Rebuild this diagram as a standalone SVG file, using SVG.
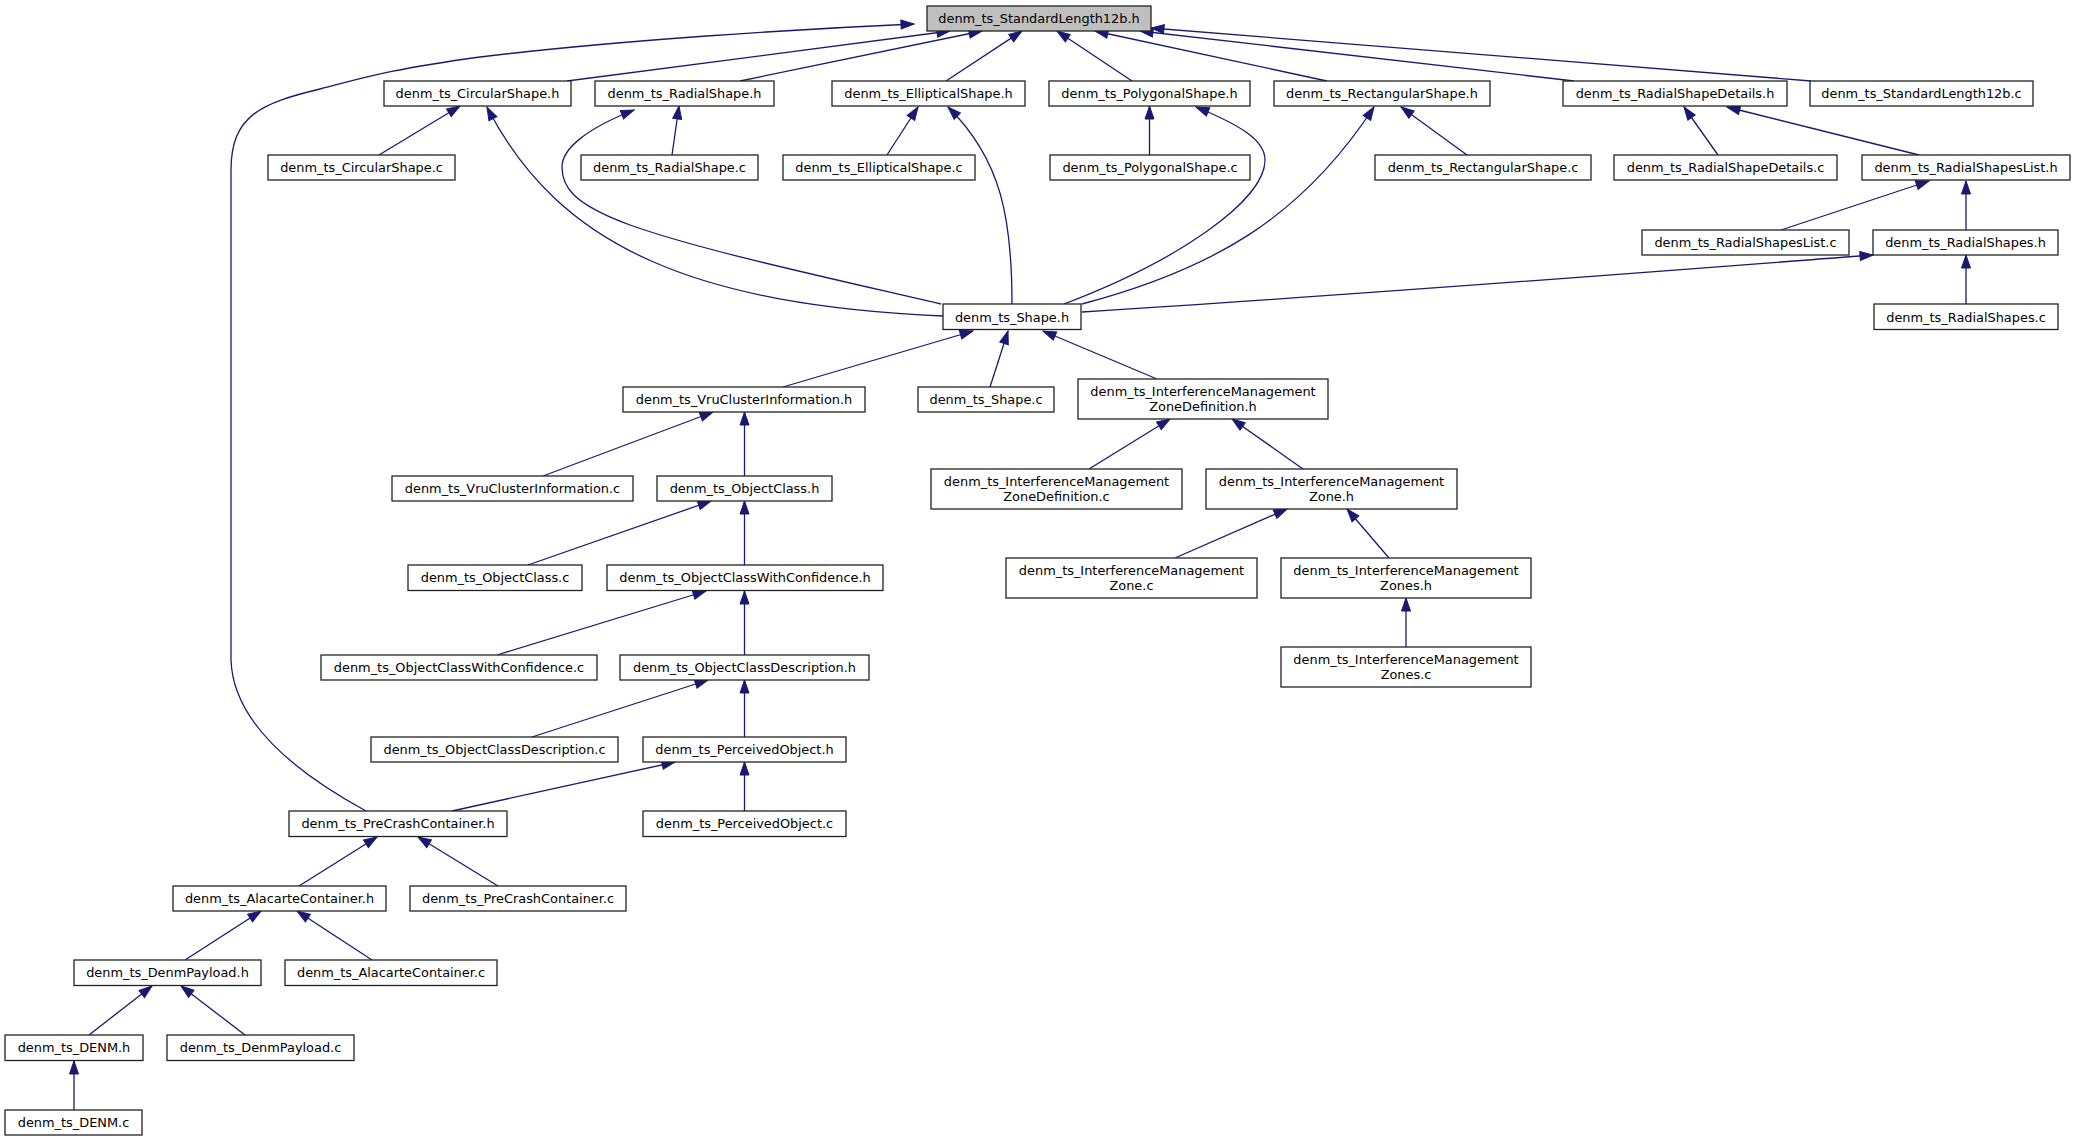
<svg xmlns="http://www.w3.org/2000/svg" width="2075" height="1141" viewBox="0 0 2075 1141">
<style>
.n rect{fill:#ffffff;stroke:#222222;stroke-width:1.3}
.n.root rect{fill:#bfbfbf}
.n text{font-family:"DejaVu Sans","Liberation Sans",sans-serif;font-size:12.9px;text-anchor:middle;fill:#000000}
.e path{fill:none;stroke:#191970;stroke-width:1.3;marker-end:url(#arr)}
</style>
<defs>
<marker id="arr" markerUnits="userSpaceOnUse" markerWidth="16" markerHeight="12" refX="13" refY="5" orient="auto" overflow="visible">
<path d="M0,0.5 L13,5 L0,9.5 Z" fill="#191970" stroke="#191970" stroke-width="1"/>
</marker>
</defs>
<rect width="2075" height="1141" fill="#ffffff"/>
<g id="edges" class="e">
<path d="M366,811 C300,775 233,725 231,660 L231,170 C231,115 262,103 320,89 C360,79 385,70 480,57 C620,40 800,29 914,24"/>
<path d="M567,81 L950,31"/>
<path d="M740,81 L982,31"/>
<path d="M946,81 L1022,31"/>
<path d="M1132,81 L1057,31"/>
<path d="M1327,81 L1095,31"/>
<path d="M1574,81 L1140,31"/>
<path d="M1811,81 L1151,28"/>
<path d="M379,155 L460,106"/>
<path d="M943,316 C700,305 560,250 487,107"/>
<path d="M672,155 L679,106"/>
<path d="M941,304 C820,276 700,250 630,225 C570,203 562,185 562,167 C562,148 588,128 634,110"/>
<path d="M887,155 L918,107"/>
<path d="M1012,304 C1012,220 1002,160 948,107"/>
<path d="M1149.5,155 L1149.5,106"/>
<path d="M1064,304 C1180,260 1265,200 1265,160 C1265,140 1240,125 1196,107"/>
<path d="M1467,155 L1401,107"/>
<path d="M1082,304 C1210,270 1300,220 1374,107"/>
<path d="M1718,155 L1684,107"/>
<path d="M1919,155 L1727,107"/>
<path d="M1781,230 L1929,181"/>
<path d="M1966,230 L1966,181"/>
<path d="M1966,304 L1966,255"/>
<path d="M1082,312 C1400,292 1700,268 1873,255"/>
<path d="M783,387 L973,331"/>
<path d="M990,387 L1008,331"/>
<path d="M1157,379 L1043,331"/>
<path d="M1089,469 L1170,419"/>
<path d="M1303,469 L1232,419"/>
<path d="M1175,558 L1287,509"/>
<path d="M1389,558 L1347,509"/>
<path d="M1406,647 L1406,598"/>
<path d="M543,476 L713,412"/>
<path d="M744.5,476 L744.5,412"/>
<path d="M528,565 L711,501"/>
<path d="M744.5,565 L744.5,501"/>
<path d="M497,655 L706,591"/>
<path d="M744.5,655 L744.5,591"/>
<path d="M532,737 L708,680"/>
<path d="M744.5,737 L744.5,680"/>
<path d="M744.5,811 L744.5,762"/>
<path d="M452,811 L675,762"/>
<path d="M299,886 L377,837"/>
<path d="M498,886 L418,837"/>
<path d="M185,960 L261,911"/>
<path d="M372,960 L297,911"/>
<path d="M89,1035 L152,986"/>
<path d="M245,1035 L181,986"/>
<path d="M74,1110 L74,1061"/>
</g>
<g id="n_std" class="n root"><rect x="927" y="6" width="224" height="25"/><text x="1039" y="23">denm_ts_StandardLength12b.h</text></g>
<g id="n_circ_h" class="n"><rect x="384" y="81" width="187" height="25"/><text x="477.5" y="98">denm_ts_CircularShape.h</text></g>
<g id="n_rad_h" class="n"><rect x="595" y="81" width="179" height="25"/><text x="684.5" y="98">denm_ts_RadialShape.h</text></g>
<g id="n_ell_h" class="n"><rect x="832" y="81" width="193" height="25"/><text x="928.5" y="98">denm_ts_EllipticalShape.h</text></g>
<g id="n_pol_h" class="n"><rect x="1049" y="81" width="201" height="25"/><text x="1149.5" y="98">denm_ts_PolygonalShape.h</text></g>
<g id="n_rect_h" class="n"><rect x="1274" y="81" width="216" height="25"/><text x="1382" y="98">denm_ts_RectangularShape.h</text></g>
<g id="n_rsd_h" class="n"><rect x="1563" y="81" width="224" height="25"/><text x="1675" y="98">denm_ts_RadialShapeDetails.h</text></g>
<g id="n_std_c" class="n"><rect x="1810" y="81" width="223" height="25"/><text x="1921.5" y="98">denm_ts_StandardLength12b.c</text></g>
<g id="n_circ_c" class="n"><rect x="268" y="155" width="187" height="25"/><text x="361.5" y="172">denm_ts_CircularShape.c</text></g>
<g id="n_rad_c" class="n"><rect x="581" y="155" width="177" height="25"/><text x="669.5" y="172">denm_ts_RadialShape.c</text></g>
<g id="n_ell_c" class="n"><rect x="783" y="155" width="192" height="25"/><text x="879" y="172">denm_ts_EllipticalShape.c</text></g>
<g id="n_pol_c" class="n"><rect x="1050" y="155" width="200" height="25"/><text x="1150" y="172">denm_ts_PolygonalShape.c</text></g>
<g id="n_rect_c" class="n"><rect x="1375" y="155" width="216" height="25"/><text x="1483" y="172">denm_ts_RectangularShape.c</text></g>
<g id="n_rsd_c" class="n"><rect x="1614" y="155" width="223" height="25"/><text x="1725.5" y="172">denm_ts_RadialShapeDetails.c</text></g>
<g id="n_rsl_h" class="n"><rect x="1862" y="155" width="208" height="25"/><text x="1966" y="172">denm_ts_RadialShapesList.h</text></g>
<g id="n_rsl_c" class="n"><rect x="1642" y="230" width="207" height="25"/><text x="1745.5" y="247">denm_ts_RadialShapesList.c</text></g>
<g id="n_rs_h" class="n"><rect x="1873" y="230" width="185" height="25"/><text x="1965.5" y="247">denm_ts_RadialShapes.h</text></g>
<g id="n_shape_h" class="n"><rect x="943" y="304" width="138" height="25.5"/><text x="1012" y="321.5">denm_ts_Shape.h</text></g>
<g id="n_rs_c" class="n"><rect x="1874" y="304" width="184" height="25.5"/><text x="1966" y="321.5">denm_ts_RadialShapes.c</text></g>
<g id="n_vru_h" class="n"><rect x="623" y="387" width="242" height="25"/><text x="744" y="404">denm_ts_VruClusterInformation.h</text></g>
<g id="n_shape_c" class="n"><rect x="918" y="387" width="136" height="25"/><text x="986" y="404">denm_ts_Shape.c</text></g>
<g id="n_zd_h" class="n"><rect x="1078" y="379" width="250" height="40"/><text x="1203" y="396">denm_ts_InterferenceManagement</text><text x="1203" y="411">ZoneDefinition.h</text></g>
<g id="n_vru_c" class="n"><rect x="392" y="476" width="241" height="25"/><text x="512.5" y="493">denm_ts_VruClusterInformation.c</text></g>
<g id="n_oc_h" class="n"><rect x="657" y="476" width="175" height="25"/><text x="744.5" y="493">denm_ts_ObjectClass.h</text></g>
<g id="n_zd_c" class="n"><rect x="931" y="469" width="251" height="40"/><text x="1056.5" y="486">denm_ts_InterferenceManagement</text><text x="1056.5" y="501">ZoneDefinition.c</text></g>
<g id="n_z_h" class="n"><rect x="1206" y="469" width="251" height="40"/><text x="1331.5" y="486">denm_ts_InterferenceManagement</text><text x="1331.5" y="501">Zone.h</text></g>
<g id="n_oc_c" class="n"><rect x="408" y="565" width="174" height="25.5"/><text x="495" y="582">denm_ts_ObjectClass.c</text></g>
<g id="n_ocwc_h" class="n"><rect x="607" y="565" width="276" height="25.5"/><text x="745" y="582">denm_ts_ObjectClassWithConfidence.h</text></g>
<g id="n_z_c" class="n"><rect x="1006" y="558" width="251" height="40"/><text x="1131.5" y="575">denm_ts_InterferenceManagement</text><text x="1131.5" y="590">Zone.c</text></g>
<g id="n_zs_h" class="n"><rect x="1281" y="558" width="250" height="40"/><text x="1406" y="575">denm_ts_InterferenceManagement</text><text x="1406" y="590">Zones.h</text></g>
<g id="n_ocwc_c" class="n"><rect x="321" y="655" width="276" height="25"/><text x="459" y="672">denm_ts_ObjectClassWithConfidence.c</text></g>
<g id="n_ocd_h" class="n"><rect x="620" y="655" width="249" height="25"/><text x="744.5" y="672">denm_ts_ObjectClassDescription.h</text></g>
<g id="n_zs_c" class="n"><rect x="1281" y="647" width="250" height="40"/><text x="1406" y="664">denm_ts_InterferenceManagement</text><text x="1406" y="679">Zones.c</text></g>
<g id="n_ocd_c" class="n"><rect x="371" y="737" width="247" height="25"/><text x="494.5" y="754">denm_ts_ObjectClassDescription.c</text></g>
<g id="n_po_h" class="n"><rect x="643" y="737" width="203" height="25"/><text x="744.5" y="754">denm_ts_PerceivedObject.h</text></g>
<g id="n_pc_h" class="n"><rect x="289" y="811" width="218" height="25.5"/><text x="398" y="828">denm_ts_PreCrashContainer.h</text></g>
<g id="n_po_c" class="n"><rect x="643" y="811" width="203" height="25.5"/><text x="744.5" y="828">denm_ts_PerceivedObject.c</text></g>
<g id="n_ac_h" class="n"><rect x="173" y="886" width="213" height="25"/><text x="279.5" y="903">denm_ts_AlacarteContainer.h</text></g>
<g id="n_pc_c" class="n"><rect x="410" y="886" width="216" height="25"/><text x="518" y="903">denm_ts_PreCrashContainer.c</text></g>
<g id="n_dp_h" class="n"><rect x="74" y="960" width="187" height="25.5"/><text x="167.5" y="977">denm_ts_DenmPayload.h</text></g>
<g id="n_ac_c" class="n"><rect x="285" y="960" width="212" height="25.5"/><text x="391" y="977">denm_ts_AlacarteContainer.c</text></g>
<g id="n_denm_h" class="n"><rect x="5" y="1035" width="138" height="25.5"/><text x="74" y="1052">denm_ts_DENM.h</text></g>
<g id="n_dp_c" class="n"><rect x="167" y="1035" width="187" height="25.5"/><text x="260.5" y="1052">denm_ts_DenmPayload.c</text></g>
<g id="n_denm_c" class="n"><rect x="5" y="1110" width="137" height="25"/><text x="73.5" y="1127">denm_ts_DENM.c</text></g>
</svg>
